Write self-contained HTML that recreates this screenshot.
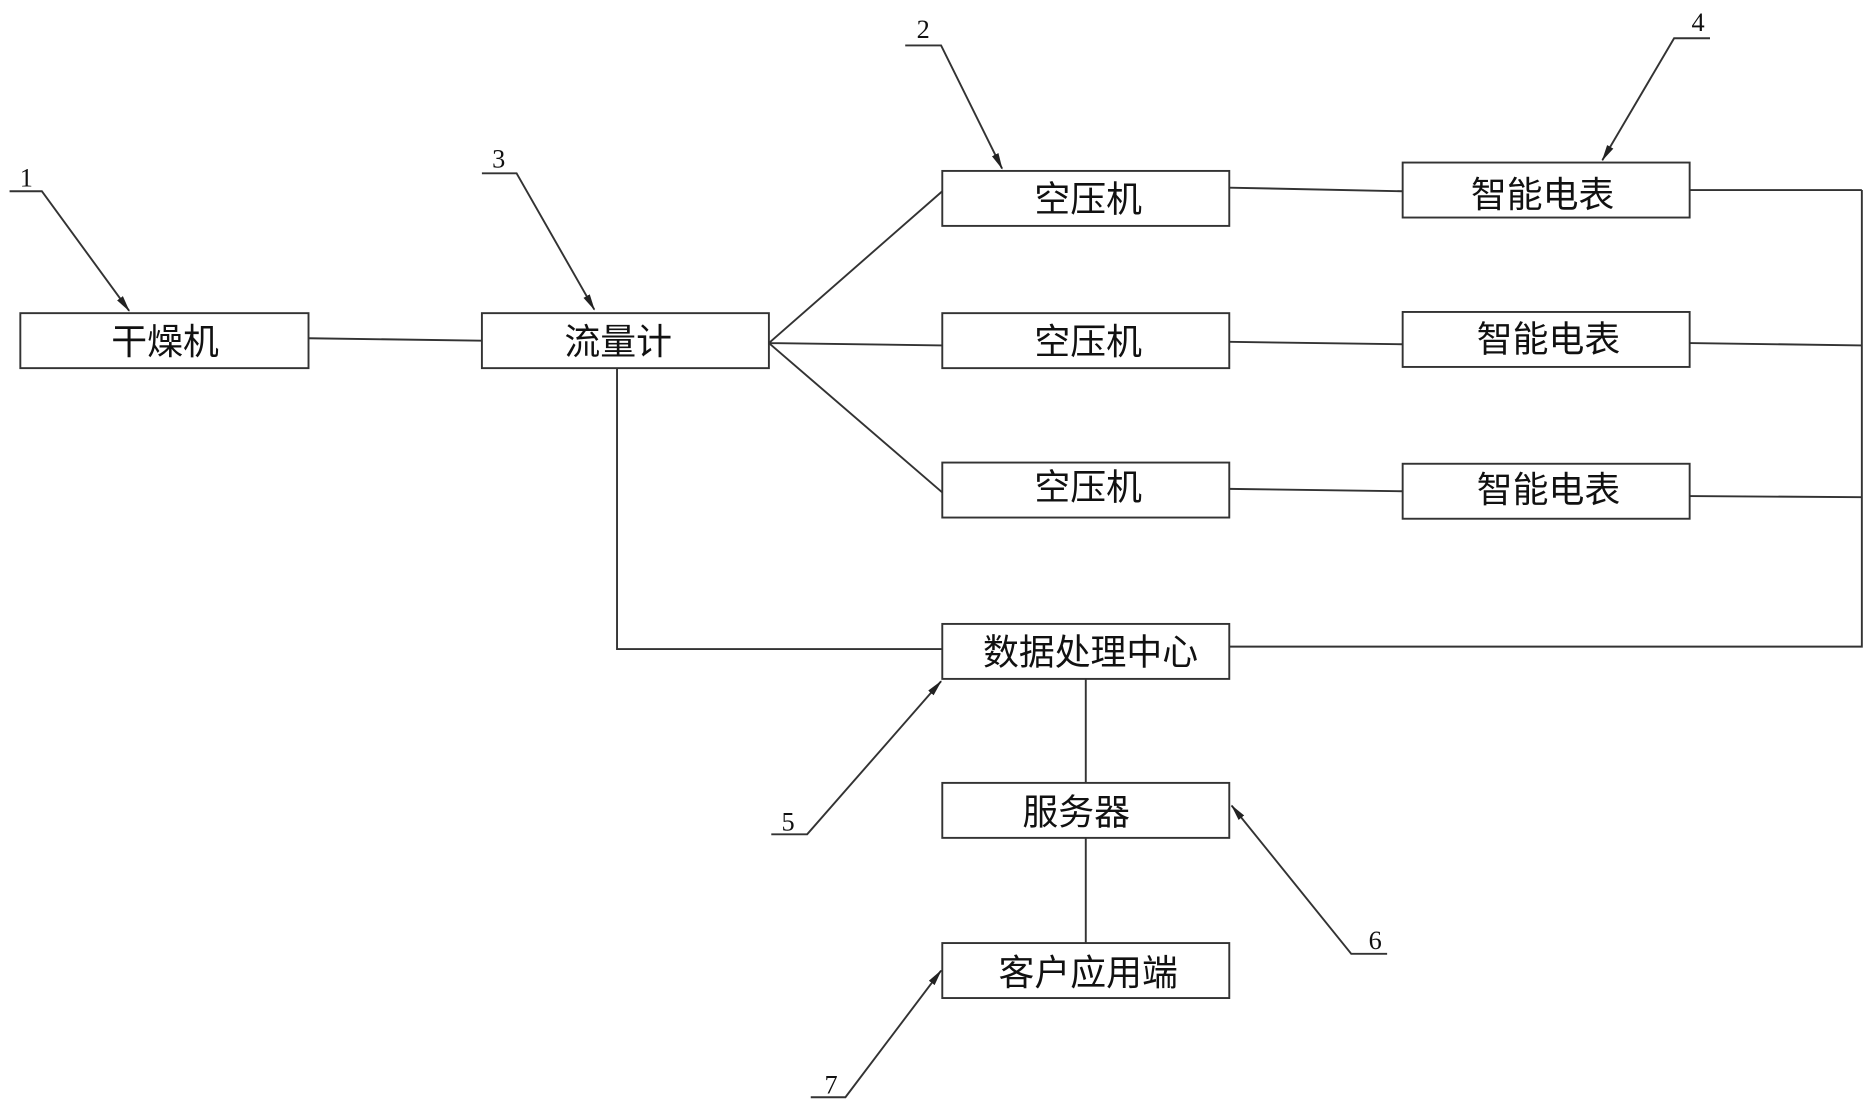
<!DOCTYPE html>
<html><head><meta charset="utf-8"><style>
html,body{margin:0;padding:0;background:#fff;}
svg{display:block;}
text{font-family:"Liberation Sans","Noto Sans CJK SC",sans-serif;fill:#111;}
.b{font-size:30px;text-anchor:middle;}
.n{font-family:"Liberation Serif","Noto Serif CJK SC",serif;font-size:22px;text-anchor:middle;}
</style></head><body>
<svg width="1875" height="1108" viewBox="0 0 1568 927" preserveAspectRatio="none" xmlns="http://www.w3.org/2000/svg">
<defs><marker id="a" markerWidth="14" markerHeight="8" refX="13" refY="4" orient="auto" markerUnits="userSpaceOnUse"><path d="M0,1 L14,4 L0,7 Z" fill="#222"/></marker></defs>
<g fill="none" stroke="#333" stroke-width="1.6">
<rect x="17" y="262" width="241" height="46"/>
<rect x="403" y="262" width="240" height="46"/>
<rect x="788" y="143" width="240" height="46"/>
<rect x="788" y="262" width="240" height="46"/>
<rect x="788" y="387" width="240" height="46"/>
<rect x="1173" y="136" width="240" height="46"/>
<rect x="1173" y="261" width="240" height="46"/>
<rect x="1173" y="388" width="240" height="46"/>
<rect x="788" y="522" width="240" height="46"/>
<rect x="788" y="655" width="240" height="46"/>
<rect x="788" y="789" width="240" height="46"/>
<path d="M258 283 L403 285"/>
<path d="M643 287 L788 160 M643 287 L788 289 M643 287 L788 412"/>
<path d="M1028 157 L1173 160 M1028 286 L1173 288 M1028 409 L1173 411"/>
<path d="M1413 159 L1557 159 M1413 287 L1557 289 M1413 415 L1557 416"/>
<path d="M1557 159 L1557 541 L1028 541"/>
<path d="M516 308 L516 543 L788 543"/>
<path d="M908 568 L908 655 M908 701 L908 789"/>
<path d="M8 160 L35 160 L108 260" marker-end="url(#a)"/>
<path d="M403 145 L432 145 L497 259" marker-end="url(#a)"/>
<path d="M757 38 L787 38 L838 141" marker-end="url(#a)"/>
<path d="M1430 32 L1400 32 L1340 134" marker-end="url(#a)"/>
<path d="M645 698 L675 698 L787 570" marker-end="url(#a)"/>
<path d="M1160 798 L1130 798 L1030 674" marker-end="url(#a)"/>
<path d="M678 918 L707 918 L787 812" marker-end="url(#a)"/>
</g>
<text class="b" x="138" y="296">干燥机</text>
<text class="b" x="517" y="296">流量计</text>
<text class="b" x="910" y="177">空压机</text>
<text class="b" x="910" y="296">空压机</text>
<text class="b" x="910" y="418">空压机</text>
<text class="b" x="1290" y="173">智能电表</text>
<text class="b" x="1295" y="294">智能电表</text>
<text class="b" x="1295" y="420">智能电表</text>
<text class="b" x="912" y="556">数据处理中心</text>
<text class="b" x="900" y="690">服务器</text>
<text class="b" x="910" y="824">客户应用端</text>
<text class="n" x="22" y="156">1</text>
<text class="n" x="417" y="140">3</text>
<text class="n" x="772" y="32">2</text>
<text class="n" x="1420" y="26">4</text>
<text class="n" x="659" y="695">5</text>
<text class="n" x="1150" y="794">6</text>
<text class="n" x="695" y="915">7</text>
</svg>
</body></html>
